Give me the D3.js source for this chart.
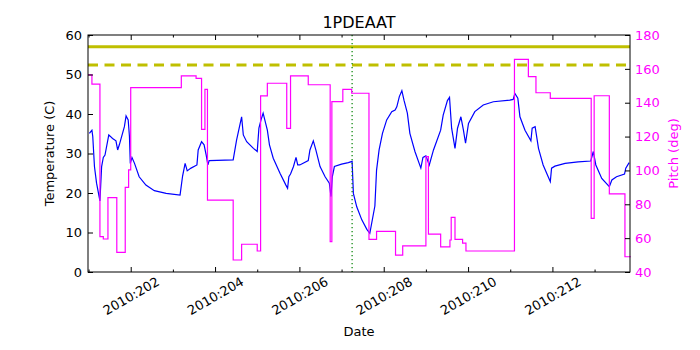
<!DOCTYPE html>
<html>
<head>
<meta charset="utf-8">
<script src="https://cdn.jsdelivr.net/npm/d3@7"></script>
<style>
body { margin: 0; background: #fff; }
svg { font-family: "DejaVu Sans", sans-serif; }
</style>
</head>
<body>
<svg id="chart" width="700" height="350"></svg>
<script>
// temperature (left axis), day of year 2010
var tempDays = [201.02,201.08,201.10,201.14,201.19,201.27,201.31,201.35,201.39,201.48,201.57,201.65,201.69,201.73,201.85,201.89,201.94,201.97,201.99,202.03,202.09,202.20,202.36,202.56,202.84,203.17,203.23,203.29,203.34,203.43,203.57,203.60,203.68,203.74,203.79,203.83,203.86,204.43,204.51,204.63,204.67,204.75,204.91,205.00,205.04,205.09,205.14,205.24,205.29,205.38,205.54,205.68,205.72,205.75,205.79,205.86,205.92,205.96,206.01,206.21,206.25,206.33,206.39,206.49,206.61,206.71,206.75,206.78,206.83,207.00,207.16,207.25,207.28,207.36,207.48,207.60,207.67,207.79,207.83,207.89,207.97,208.07,208.19,208.27,208.31,208.37,208.43,208.48,208.56,208.62,208.74,208.88,208.93,209.00,209.08,209.18,209.35,209.41,209.51,209.56,209.61,209.69,209.75,209.83,209.89,209.94,210.01,210.16,210.36,210.60,210.99,211.07,211.11,211.18,211.23,211.35,211.49,211.52,211.59,211.67,211.78,211.90,211.95,211.98,212.06,212.30,212.61,212.91,212.97,213.03,213.17,213.35,213.41,213.52,213.71,213.74,213.82];
var tempVals = [35.1,35.9,34.3,26.7,22.5,18.0,26.7,29.0,29.6,34.7,33.8,33.2,30.9,32.2,36.8,39.5,38.5,34.3,27.5,29.0,27.5,24.1,22.0,20.6,19.9,19.5,24.3,27.5,25.6,26.3,27.1,30.9,33.0,32.2,29.6,27.1,28.2,28.4,33.4,39.3,34.7,33.0,31.3,30.5,36.4,38.5,40.2,35.9,32.2,28.8,25.0,22.0,21.2,24.1,24.8,26.7,29.0,27.1,27.1,28.2,30.9,33.2,30.9,26.7,24.1,22.5,19.1,24.1,26.7,27.3,27.7,28.0,19.9,16.5,13.2,10.8,9.8,16.7,25.8,30.9,35.1,38.5,40.6,41.0,41.8,44.4,45.9,43.5,40.2,35.1,30.5,26.3,29.0,29.4,27.1,30.9,35.9,39.7,43.4,44.2,36.4,31.3,36.4,39.3,35.9,32.6,37.6,40.6,42.3,43.1,43.5,43.7,45.2,44.0,39.3,35.9,33.2,36.4,36.8,31.3,27.1,24.1,22.9,26.3,26.8,27.5,27.9,28.1,30.5,27.1,23.7,21.6,23.3,24.1,24.8,26.3,27.7];

// pitch (right axis), held until the next change
var pitchDays = [200.99,201.08,201.27,201.35,201.46,201.67,201.87,201.95,202.00,203.20,203.55,203.68,203.76,203.82,204.43,204.63,205.00,205.08,205.24,205.70,205.79,206.21,206.73,206.77,207.03,207.24,207.65,207.83,208.28,208.45,209.00,209.06,209.35,209.57,209.60,209.69,209.87,209.95,211.10,211.43,211.61,211.95,212.92,212.99,213.35,213.72,213.86];
var pitchVals = [156.4,151.0,60.9,59.5,83.9,51.6,90.0,100.3,148.9,155.8,154.4,124.3,147.9,82.5,47.1,56.4,52.4,144.0,151.5,124.9,155.8,150.6,57.9,140.6,147.9,145.6,59.3,64.0,50.0,55.4,108.1,62.4,54.9,58.9,72.3,59.3,57.0,52.4,165.6,155.4,145.9,142.6,71.7,144.1,86.1,49.0,49.0];

var majorDays = [202,204,206,208,210,212];
var dateLabels = ['2010:202','2010:204','2010:206','2010:208','2010:210','2010:212'];
var minorDays = [201,203,205,207,209,211,213];
var tempTicks = [0,10,20,30,40,50,60];
var pitchTicks = [40,60,80,100,120,140,160,180];
var planningLimit = 57.0;   // solid
var cautionLimit = 52.4;    // dashed
var markDay = 207.25;       // dotted green line

var marginLeft = 88, marginTop = 35, W = 542, H = 237;
var svg = d3.select('#chart');
var g = svg.append('g').attr('transform', 'translate(' + marginLeft + ',' + marginTop + ')');

var x = d3.scaleLinear().domain([200.987, 213.84]).range([0, W]);
var yT = d3.scaleLinear().domain([0, 60]).range([H, 0]);
var yP = d3.scaleLinear().domain([40, 180]).range([H, 0]);

// limit lines
g.append('line').attr('x1', 0).attr('x2', W)
    .attr('y1', yT(planningLimit)).attr('y2', yT(planningLimit))
    .attr('stroke', '#bfbf00').attr('stroke-width', 3);
g.append('line').attr('x1', 0).attr('x2', W)
    .attr('y1', yT(cautionLimit)).attr('y2', yT(cautionLimit))
    .attr('stroke', '#bfbf00').attr('stroke-width', 3).attr('stroke-dasharray', '10,6.5');

var tempLine = d3.line()
    .x(function (d, i) { return x(tempDays[i]); })
    .y(function (d) { return yT(d); });
g.append('path').attr('d', tempLine(tempVals))
    .attr('fill', 'none').attr('stroke', '#0000ff').attr('stroke-width', 1.2);

g.append('line').attr('x1', x(markDay)).attr('x2', x(markDay))
    .attr('y1', 0).attr('y2', H)
    .attr('stroke', '#008000').attr('stroke-width', 1.2).attr('stroke-dasharray', '1.2,2.8');

var pitchLine = d3.line()
    .x(function (d, i) { return x(pitchDays[i]); })
    .y(function (d) { return yP(d); })
    .curve(d3.curveStepAfter);
g.append('path').attr('d', pitchLine(pitchVals))
    .attr('fill', 'none').attr('stroke', '#ff00ff').attr('stroke-width', 1.2);

// axes, ticks point inward
function fixAxis(s) {
    s.attr('font-family', null).attr('font-size', null);
    s.select('.domain').remove();
}

g.append('g').attr('transform', 'translate(0,' + H + ')')
    .call(d3.axisBottom(x).tickValues(minorDays).tickSize(-2.5).tickFormat(''))
    .call(fixAxis);
g.append('g').attr('transform', 'translate(0,' + H + ')')
    .call(d3.axisBottom(x).tickValues(majorDays).tickSize(-5)
        .tickFormat(function (d, i) { return dateLabels[i]; }))
    .call(fixAxis)
    .call(function (s) {
        s.selectAll('text').attr('y', null).attr('dy', null)
            .attr('font-size', 13).attr('fill', '#000')
            .attr('text-anchor', 'middle').attr('dominant-baseline', 'central')
            .attr('transform', 'translate(0,24) rotate(-30)');
    });
g.append('g')
    .call(d3.axisTop(x).tickValues(minorDays).tickSize(-2.5).tickFormat(''))
    .call(fixAxis);
g.append('g')
    .call(d3.axisTop(x).tickValues(majorDays).tickSize(-5).tickFormat(''))
    .call(fixAxis);

g.append('g')
    .call(d3.axisLeft(yT).tickValues(tempTicks).tickSize(-5).tickPadding(6))
    .call(fixAxis)
    .call(function (s) { s.selectAll('text').attr('font-size', 13).attr('fill', '#000'); });

g.append('g').attr('transform', 'translate(' + W + ',0)')
    .call(d3.axisRight(yP).tickValues(pitchTicks).tickSize(-5).tickPadding(5))
    .call(fixAxis)
    .call(function (s) { s.selectAll('text').attr('font-size', 13).attr('fill', '#ff00ff'); });

g.append('rect').attr('width', W).attr('height', H)
    .attr('fill', 'none').attr('stroke', '#000').attr('stroke-width', 1);

// labels
svg.append('text').attr('x', marginLeft + W / 2).attr('y', 28)
    .attr('text-anchor', 'middle').attr('font-size', 16).text('1PDEAAT');
svg.append('text').attr('x', marginLeft + W / 2).attr('y', 336)
    .attr('text-anchor', 'middle').attr('font-size', 13).text('Date');
svg.append('text').attr('transform', 'translate(54,' + (marginTop + H / 2) + ') rotate(-90)')
    .attr('text-anchor', 'middle').attr('font-size', 13).text('Temperature (C)');
svg.append('text').attr('transform', 'translate(678,' + (marginTop + H / 2) + ') rotate(-90)')
    .attr('text-anchor', 'middle').attr('font-size', 13).attr('fill', '#ff00ff').text('Pitch (deg)');
</script>
</body>
</html>
